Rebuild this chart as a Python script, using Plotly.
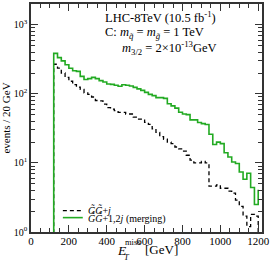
import plotly.graph_objects as go

# ---- data ----
edges = list(range(120, 1201, 20))  # left bin edges 120..1180 plus closing edge 1200

merging = [385, 334, 300, 263, 235, 216, 211, 179, 161, 166, 173, 166, 155, 148, 139,
           137, 133, 129, 135, 133, 130, 124, 118, 112, 105, 98, 94, 88, 88, 86,
           72, 67, 62, 54, 51, 50, 42, 42, 38.5, 37, 36, 26, 18.5, 20, 19,
           14, 12.2, 10.3, 9.8, 7.4, 5.8, 7.1, 4.4, 2.5, 4.1]

onejet = [268, 235, 200, 173, 152, 136, 125, 116, 103, 98, 90, 80, 79, 71, 63,
          60, 57, 54, 54, 51, 51, 46, 43, 43, 38.5, 36, 31, 27.7, 24, 22,
          20, 19, 17, 16, 14.8, 12.9, 11, 10, 10, 10.5, 10, 4.6, 4.6, 4.8, 4.3,
          4.3, 3.9, 3.65, 2.9, 2.35, 1.7, 1.2, 1.8, 1.7, 1.0]

xticks = [0, 200, 400, 600, 800, 1000, 1200]
yticks = [1, 10, 100, 1000]
yticklabels = ["10<sup>0</sup>", "10<sup>1</sup>", "10<sup>2</sup>", "10<sup>3</sup>"]
baseline = 0.3

GREEN = "#22aa22"
SERIF = "Liberation Serif"

# figure geometry (pixels)
W, H = 273, 268
L, R, T, B = 30, 11, 2, 36
PW, PH = W - L - R, H - T - B


def px(x):
    return (x - L) / PW


def py(y):
    return (H - B - y) / PH


fig = go.Figure()
fig.add_trace(go.Scatter(x=[edges[0]] + edges, y=[baseline] + onejet, mode="lines",
                         line=dict(color="black", width=1.3, dash="4px,3px", shape="hv"),
                         showlegend=False, hoverinfo="skip"))
fig.add_trace(go.Scatter(x=[edges[0]] + edges, y=[baseline] + merging, mode="lines",
                         line=dict(color=GREEN, width=1.6, shape="hv"),
                         showlegend=False, hoverinfo="skip"))

axis_common = dict(showline=True, linecolor="#333", linewidth=1.5, mirror="ticks",
                   ticks="inside", ticklen=7, tickcolor="#333", tickwidth=1,
                   showgrid=False, zeroline=False)

fig.update_layout(
    width=W, height=H,
    margin=dict(l=L, r=R, t=T, b=B),
    paper_bgcolor="white", plot_bgcolor="white",
    font=dict(family=SERIF, color="black"),
    xaxis=dict(range=[0, 1220], tickvals=xticks, ticktext=[str(v) for v in xticks],
               tickfont=dict(size=11, family=SERIF), ticklabelstandoff=-2,
               minor=dict(dtick=50, tick0=0, ticks="inside", ticklen=4, tickcolor="#333"),
               **axis_common),
    yaxis=dict(type="log", range=[0, 3.3], tickvals=yticks, ticktext=yticklabels,
               tickfont=dict(size=10, family=SERIF),
               minor=dict(tickvals=[m * 10 ** d for d in range(4) for m in range(2, 10)],
                          ticks="inside", ticklen=4, tickcolor="#333"),
               title=dict(text="events / 20 GeV", font=dict(size=11, family=SERIF), standoff=4),
               **axis_common),
)

ann = [
    dict(text="LHC-8TeV (10.5 fb<sup>-1</sup>)", x=px(102), y=py(15), size=12.5),
    dict(text="C: <i>m</i><sub><i>q̃</i></sub> = <i>m</i><sub><i>g̃</i></sub> = 1 TeV", x=px(102), y=py(31), size=12.5),
    dict(text="<i>m</i><sub>3/2</sub> = 2×10<sup>-13</sup>GeV", x=px(119), y=py(46), size=12.5),
    dict(text="<i>G̃G̃</i>+<i>j</i>", x=px(85), y=py(210), size=10),
    dict(text="<i>G̃G̃</i>+1,2<i>j</i> (merging)", x=px(85), y=py(218), size=10),
    dict(text="<i>E</i>", x=px(114), y=py(251), size=13.5),
    dict(text="<i>T</i>", x=px(121.5), y=py(257), size=8.5),
    dict(text="miss", x=px(122.5), y=py(242.5), size=8.5),
    dict(text="[GeV]", x=px(142), y=py(250), size=13),
]
for a in ann:
    fig.add_annotation(text=a["text"], x=a["x"], y=a["y"], xref="paper", yref="paper",
                       xanchor="left", yanchor="middle", showarrow=False,
                       font=dict(size=a["size"], family=SERIF, color="black"))

# legend line samples
fig.add_shape(type="line", xref="paper", yref="paper", x0=px(62), x1=px(82), y0=py(210.5), y1=py(210.5),
              line=dict(color="black", width=1.3, dash="4px,3px"))
fig.add_shape(type="line", xref="paper", yref="paper", x0=px(62), x1=px(82), y0=py(217.5), y1=py(217.5),
              line=dict(color=GREEN, width=1.6))

fig.write_html("out.html", config={"displayModeBar": False},
               post_script="document.body.style.margin='0px';")
